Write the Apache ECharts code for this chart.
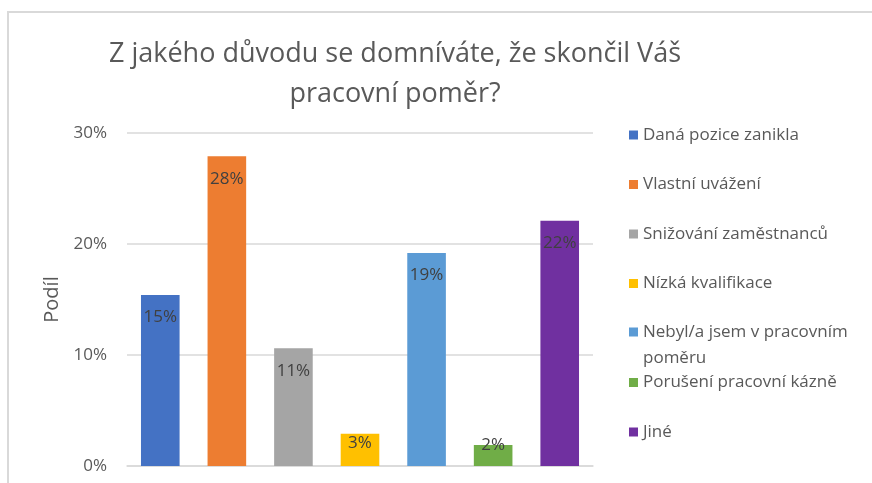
<!DOCTYPE html>
<html>
<head>
<meta charset="utf-8">
<script src="https://cdn.jsdelivr.net/npm/echarts@6/dist/echarts.min.js"></script>
<style>
  html, body { margin: 0; padding: 0; background: #fff; }
  #chart-container { width: 872px; height: 483px; }
</style>
</head>
<body>
<div id="chart-container"></div>
<script>
var dom = document.getElementById('chart-container');
var myChart = echarts.init(dom, null, { renderer: 'canvas' });

// data
var categories = [
  'Daná pozice zanikla',
  'Vlastní uvážení',
  'Snižování zaměstnanců',
  'Nízká kvalifikace',
  'Nebyl/a jsem v pracovním poměru',
  'Porušení pracovní kázně',
  'Jiné'
];
var shares = [15.4, 27.9, 10.6, 2.9, 19.2, 1.9, 22.1];
var yTicks = [0, 10, 20, 30];
var colors = ['#4472C4', '#ED7D31', '#A5A5A5', '#FFC000', '#5B9BD5', '#70AD47', '#7030A0'];

var font = 'Open Sans';
var textColor = '#595959';
var wrapName = 'Nebyl/a jsem v pracovním poměru';

// one series per category so every bar gets its own legend entry
var series = categories.map(function (name, i) {
  var data = categories.map(function (c, j) { return j === i ? shares[i] : '-'; });
  return {
    name: name,
    type: 'bar',
    stack: 'all',
    barWidth: '58%',
    itemStyle: { color: colors[i] },
    label: {
      show: true,
      position: 'insideTop',
      distance: Math.min(14, 9 * shares[i] - 25),
      color: '#404040',
      fontFamily: font,
      fontSize: 17,
      formatter: function (p) { return Math.round(p.value) + '%'; }
    },
    data: data
  };
});

// Excel-like legend: evenly spaced slots, the wrapped entry keeps its first line next to the icon
// (an empty line above balances the block so the icon sits on the first line)
var legends = categories.map(function (name, i) {
  var wrapped = name === wrapName;
  return {
    data: [name],
    orient: 'vertical',
    left: 629,
    top: wrapped ? 122 + i * 49.5 - 27 : 122 + i * 49.5,
    padding: 0,
    icon: 'rect',
    itemWidth: 9,
    itemHeight: 9,
    selectedMode: false,
    formatter: function (n) {
      return n === wrapName ? ' \nNebyl/a jsem v pracovním\npoměru' : n;
    },
    textStyle: {
      color: textColor,
      fontFamily: font,
      fontSize: 17,
      lineHeight: 26
    }
  };
});

var option = {
  animation: false,
  backgroundColor: '#fff',
  title: {
    text: 'Z jakého důvodu se domníváte, že skončil Váš\npracovní poměr?',
    left: 395,
    top: 34,
    textAlign: 'center',
    padding: 0,
    textStyle: {
      color: textColor,
      fontFamily: font,
      fontSize: 27,
      fontWeight: 'normal',
      lineHeight: 40
    }
  },
  graphic: [{
    type: 'rect',
    shape: { x: 8, y: 12, width: 900, height: 520 },
    style: { fill: 'none', stroke: '#d9d9d9', lineWidth: 2 },
    silent: true
  }],
  legend: legends,
  grid: { left: 127, right: 279, top: 133, bottom: 17 },
  xAxis: {
    type: 'category',
    data: categories,
    axisLabel: { show: false },
    axisTick: { show: false },
    axisLine: { lineStyle: { color: '#d9d9d9', width: 1.5 } }
  },
  yAxis: {
    type: 'value',
    min: yTicks[0],
    max: yTicks[yTicks.length - 1],
    interval: yTicks[1] - yTicks[0],
    name: 'Podíl',
    nameLocation: 'middle',
    nameGap: 63,
    nameTextStyle: { color: textColor, fontFamily: font, fontSize: 20 },
    axisLabel: {
      color: textColor,
      fontFamily: font,
      fontSize: 17,
      margin: 20,
      formatter: '{value}%'
    },
    splitLine: { lineStyle: { color: '#d9d9d9', width: 1.5 } }
  },
  series: series
};

myChart.setOption(option);
window.addEventListener('resize', myChart.resize);
</script>
</body>
</html>
